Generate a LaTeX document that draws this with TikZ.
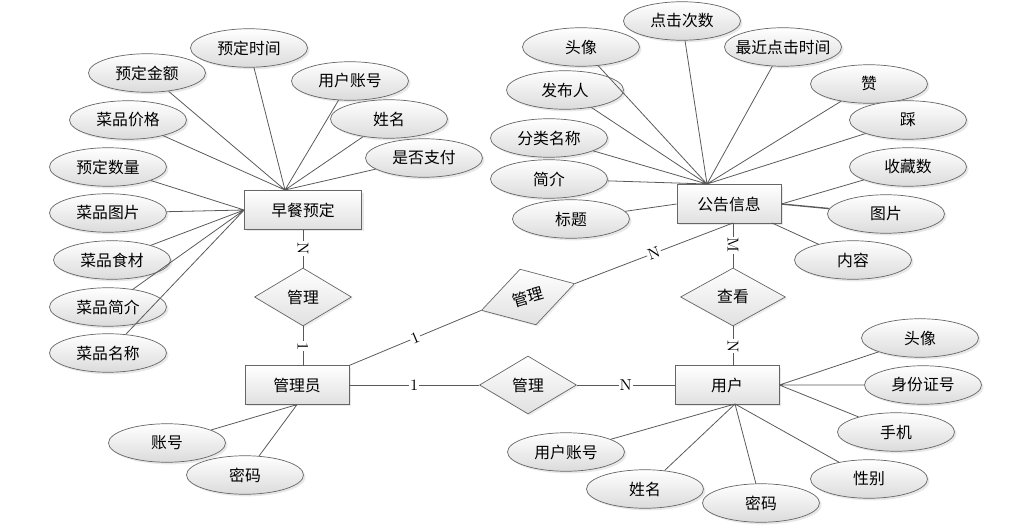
\documentclass[tikz,border=0pt]{standalone}
\usepackage{fontspec}
\newfontfamily\cjk{Noto Sans CJK SC}
\usepackage{tikz}
\usetikzlibrary{shapes.geometric}
\usetikzlibrary{shadows}

\tikzset{
  attr/.style={ellipse,draw=black!60,top color=white,bottom color=black!14,
    minimum width=2.34cm,minimum height=0.77cm,inner sep=1pt,
    font=\cjk\fontsize{9}{10}\selectfont,
    drop shadow={shadow xshift=1.2pt,shadow yshift=-1.2pt,opacity=0.18}},
  entity/.style={rectangle,draw=black!60,top color=white,bottom color=black!12,
    minimum width=2.08cm,minimum height=0.77cm,inner sep=1pt,
    font=\cjk\fontsize{9}{10}\selectfont,
    drop shadow={shadow xshift=1.2pt,shadow yshift=-1.2pt,opacity=0.18}},
  rel/.style={diamond,draw=black!60,top color=white,bottom color=black!12,
    minimum width=1.94cm,minimum height=1.16cm,inner sep=0pt,
    font=\cjk\fontsize{9}{10}\selectfont,
    drop shadow={shadow xshift=1pt,shadow yshift=-1pt,opacity=0.15}},
  card/.style={fill=white,inner sep=0.6pt,font=\fontsize{9}{10}\selectfont},
  link/.style={draw=black!65,line width=0.45pt}
}

\begin{document}
\begin{tikzpicture}[x=0.02cm,y=-0.02cm]
\useasboundingbox (0,0) rectangle (1014,530);

\node[entity,minimum width=2.34cm] (order) at (303,210) {早餐预定};
\node[entity] (notice) at (729,204) {公告信息};
\node[entity] (admin) at (297,385) {管理员};
\node[entity] (user) at (727,385) {用户};

\node[rel] (rOrder) at (303,297) {管理};
\node[rel,rotate=16] (rNotice) at (528,297) {管理};
\node[rel] (rUser) at (528,385) {管理};
\node[rel,minimum width=2.1cm] (rView) at (733,297) {查看};

\node[attr] (o1) at (249,48) {预定时间};
\node[attr] (o2) at (147,73) {预定金额};
\node[attr] (o3) at (350,81) {用户账号};
\node[attr] (o4) at (128,120) {菜品价格};
\node[attr] (o5) at (389,119) {姓名};
\node[attr] (o6) at (108,167) {预定数量};
\node[attr] (o7) at (424,158) {是否支付};
\node[attr] (o8) at (108,213) {菜品图片};
\node[attr] (o9) at (112,260) {菜品食材};
\node[attr] (o10) at (108,307) {菜品简介};
\node[attr] (o11) at (108,353) {菜品名称};

\node[attr] (n1) at (682,21) {点击次数};
\node[attr] (n2) at (581,47) {头像};
\node[attr,inner xsep=-4pt] (n3) at (783,47) {最近点击时间};
\node[attr] (n4) at (565,90) {发布人};
\node[attr] (n5) at (869,84) {赞};
\node[attr] (n6) at (549,138) {分类名称};
\node[attr] (n7) at (908,120) {踩};
\node[attr] (n8) at (549,179) {简介};
\node[attr] (n9) at (908,167) {收藏数};
\node[attr] (n10) at (571,219) {标题};
\node[attr] (n11) at (886,214) {图片};
\node[attr] (n12) at (853,260) {内容};

\node[attr] (a1) at (167,443) {账号};
\node[attr] (a2) at (245,475) {密码};

\node[attr] (u1) at (920,338) {头像};
\node[attr] (u2) at (923,385) {身份证号};
\node[attr] (u3) at (896,432) {手机};
\node[attr] (u4) at (869,479) {性别};
\node[attr] (u5) at (761,503) {密码};
\node[attr] (u6) at (645,489) {姓名};
\node[attr] (u7) at (566,452) {用户账号};

\coordinate (oTop) at (285,190);
\coordinate (nTop) at (707,184);
\coordinate (nBot) at (733,223);
\coordinate (nCor) at (772,223);
\coordinate (aTop) at (303,366);
\coordinate (uTop) at (733,366);
\coordinate (uBot) at (735,404);

\draw[link] (o1) -- (oTop) (o2) -- (oTop) (o3) -- (oTop) (o4) -- (oTop)
  (o5) -- (oTop) (o7) -- (oTop);
\draw[link] (o6) -- (order.west) (o8) -- (order.west) (o9) -- (order.west)
  (o10) -- (order.west) (o11) -- (order.west);
\draw[link] (n1) -- (nTop) (n2) -- (nTop) (n3) -- (nTop) (n4) -- (nTop)
  (n5) -- (nTop) (n6) -- (nTop) (n7) -- (nTop) (n8) -- (nTop);
\draw[link] (n10) -- (notice.west) (n9) -- (notice.east) (n12) -- (nCor);
\draw[link,line width=0.8pt] (n11) -- (notice.east);
\draw[link] (a1) -- (admin.south) (a2) -- (admin.south);
\draw[link] (u1) -- (user.east) (u2) -- (user.east) (u3) -- (user.east);
\draw[link] (u4) -- (uBot) (u5) -- (uBot) (u6) -- (uBot) (u7) -- (uBot);

\draw[link] (order.south) -- node[card,rotate=-90] {N} (rOrder.north);
\draw[link] (rOrder.south) -- node[card,rotate=-90] {1} (aTop);
\draw[link] (admin.north east) -- node[card,sloped] {1} (rNotice.west);
\draw[link] (rNotice.east) -- node[card,sloped] {N} (nBot);
\draw[link] (admin.east) -- node[card] {1} (rUser.west);
\draw[link] (rUser.east) -- node[card] {N} (user.west);
\draw[link] (nBot) -- node[card,rotate=-90] {M} (rView.north);
\draw[link] (rView.south) -- node[card,rotate=-90] {N} (uTop);
\end{tikzpicture}
\end{document}
